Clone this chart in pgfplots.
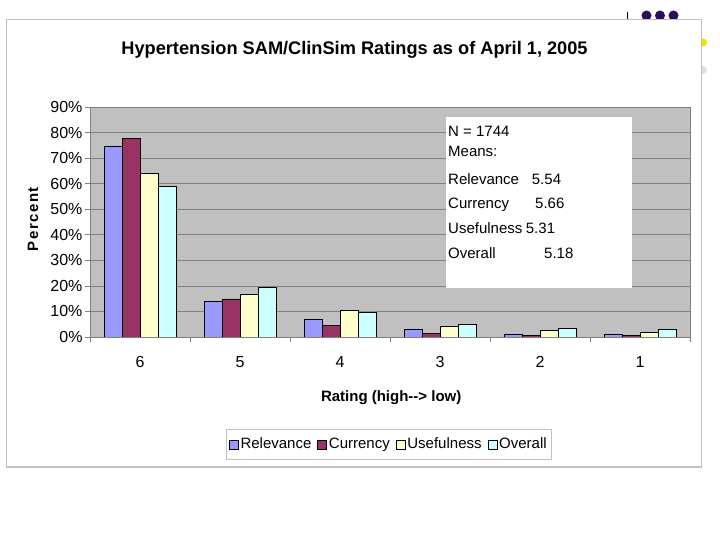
\documentclass[border=0pt]{standalone}
\usepackage{fontspec}
\setmainfont{Liberation Sans}
\usepackage{pgfplots}
\pgfplotsset{compat=1.18}
\definecolor{relc}{HTML}{9999FF}
\definecolor{curc}{HTML}{993366}
\definecolor{usec}{HTML}{FFFFCC}
\definecolor{ovc}{HTML}{CCFFFF}
\definecolor{plotbg}{HTML}{C0C0C0}
\definecolor{gridc}{HTML}{808080}
\definecolor{framec}{HTML}{C0C0C0}
\definecolor{dotc}{HTML}{2E0B5E}
\begin{document}
\begin{tikzpicture}[x=1bp,y=1bp]
\useasboundingbox[fill=white] (0,0) rectangle (720,540);
% slide decorations
\fill[dotc] (646.5,524.5) circle (5);
\fill[dotc] (660,524.5) circle (5);
\fill[dotc] (673.5,524.5) circle (5);
\draw[black, line width=1bp] (627,528) -- (627,521);
\fill[yellow!85!olive] (703,497.5) circle (4);
\fill[gray!25] (703,470) circle (4);
% chart frame
\fill[white] (6.5,520.5) rectangle (701.5,73);
\draw[framec, line width=1.2bp] (6.5,520.5) rectangle (701.5,73);
% title
\node[font=\bfseries\fontsize{18.2bp}{22bp}\selectfont, anchor=base, inner sep=0] at (354.5,485) {Hypertension SAM/ClinSim Ratings as of April 1, 2005};
\begin{axis}[at={(90bp,203bp)}, anchor=south west, scale only axis,
  width=600bp, height=230bp,
  ybar=0pt, bar width=18bp,
  xmin=-0.5, xmax=5.5, ymin=0, ymax=90,
  xtick={0,...,5}, xticklabels={6,5,4,3,2,1},
  minor xtick={-0.5,0.5,...,5.5},
  ytick={0,10,...,90},
  yticklabel={\pgfmathprintnumber{\tick}\%},
  /pgf/number format/assume math mode=true,
  tick align=outside, tick pos=left,
  major x tick style={draw=none},
  major tick length=5bp, minor tick length=5bp,
  tick style={gridc, line width=0.75bp},
  ymajorgrids, grid style={gridc, line width=0.75bp},
  axis line style={gridc, line width=0.75bp},
  axis background/.style={fill=plotbg},
  ticklabel style={font=\fontsize{16bp}{19bp}\selectfont},
  yticklabel style={xshift=1bp},
  xticklabel style={anchor=base, yshift=-26bp},
  ylabel={Percent},
  every axis y label/.style={at={(axis description cs:-0.095,0.513)}, rotate=90, anchor=center, font=\bfseries\fontsize{15bp}{18bp}\selectfont\addfontfeature{LetterSpace=10}},
  xlabel={Rating (high-{}-{}> low)},
  every axis x label/.style={at={(axis description cs:0.502,-0.263)}, anchor=center, font=\bfseries\fontsize{15bp}{18bp}\selectfont},
  legend columns=4,
  legend style={at={(0.498,-0.467)}, anchor=center, draw=framec, line width=0.8bp,
    font=\fontsize{15bp}{18bp}\selectfont, inner xsep=3bp, inner ysep=6bp,
    nodes={text height=11bp, text depth=3bp},
    /tikz/every even column/.append style={column sep=4bp}},
  legend image code/.code={\draw[#1,draw=black,line width=0.6bp] (0bp,-4.5bp) rectangle (9bp,4.5bp);},
]
\addplot[fill=relc, draw=black, line width=0.75bp, bar shift=-27bp] coordinates {(0,74.6) (1,13.9) (2,6.7) (3,2.9) (4,1.2) (5,1.2)};
\addplot[fill=curc, draw=black, line width=0.75bp, bar shift=-9bp] coordinates {(0,77.7) (1,14.9) (2,4.5) (3,1.3) (4,0.7) (5,0.6)};
\addplot[fill=usec, draw=black, line width=0.75bp, bar shift=9bp] coordinates {(0,64.0) (1,16.7) (2,10.5) (3,4.3) (4,2.4) (5,1.7)};
\addplot[fill=ovc, draw=black, line width=0.75bp, bar shift=27bp] coordinates {(0,59.0) (1,19.3) (2,9.8) (3,4.9) (4,3.3) (5,2.9)};
\legend{Relevance, Currency, Usefulness, Overall}
\end{axis}
% stats text box
\fill[white] (446,423) rectangle (632,252);
\begin{scope}[every node/.style={anchor=base west, inner sep=0, font=\fontsize{15bp}{18bp}\selectfont}]
\node at (448,403.3) {N = 1744};
\node at (448,383.3) {Means:};
\node at (448,355.7) {Relevance};  \node at (531.7,355.7) {5.54};
\node at (448,331.7) {Currency};   \node at (535,331.7) {5.66};
\node at (448,306.7) {Usefulness}; \node at (525.7,306.7) {5.31};
\node at (448,281.3) {Overall};    \node at (544,281.3) {5.18};
\end{scope}
\end{tikzpicture}
\end{document}
